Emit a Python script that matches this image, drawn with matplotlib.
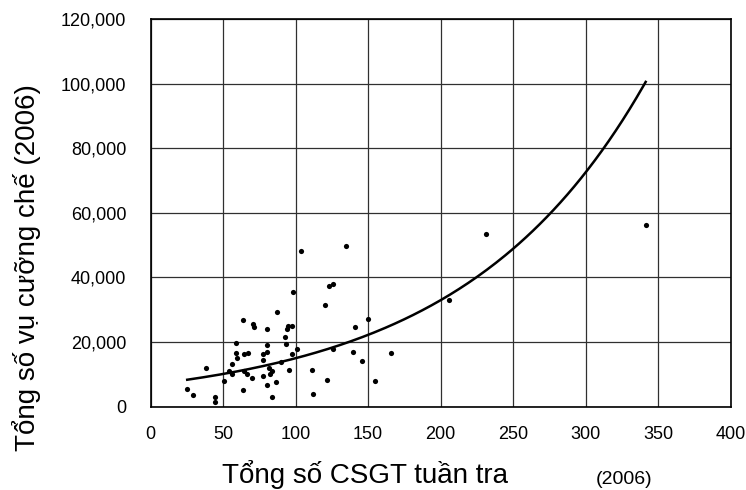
import numpy as np
import matplotlib
matplotlib.use("Agg")
import matplotlib.pyplot as plt

plt.rcParams['font.family'] = ['Liberation Sans', 'DejaVu Sans']

# Data (patrol officers vs. enforcement cases, 2006)
csgt = [25.3, 29.0, 38.0, 44.3, 44.3, 50.6, 54.3, 56.2, 56.2, 59.1,
        59.1, 59.9, 63.5, 63.5, 64.3, 64.1, 67.2, 66.4, 69.9, 70.7,
        71.5, 77.3, 77.3, 77.3, 80.2, 80.2, 80.2, 80.2, 81.7, 82.3,
        83.8, 83.8, 86.5, 87.3, 89.9, 92.8, 93.6, 94.4, 94.7, 95.7,
        97.3, 97.3, 98.4, 101.0, 103.9, 111.0, 112.1, 120.2, 121.8, 122.9,
        125.5, 125.5, 134.7, 139.5, 141.1, 145.8, 150.0, 155.0, 165.9, 205.9,
        231.5, 341.2]
cases = [5483, 3414, 12000, 2897, 1345, 7862, 10862, 9931, 13241, 19759,
         16552, 14897, 26793, 5069, 16138, 10862, 16552, 10138, 8690, 25655,
         24724, 16138, 14483, 9517, 23897, 18931, 16966, 6621, 12000, 9931,
         10862, 2897, 7448, 29172, 13759, 21414, 19448, 23897, 24828, 11172,
         24828, 16138, 35379, 17690, 48103, 11172, 3724, 31345, 8276, 37448,
         37862, 17690, 49759, 16966, 24724, 14069, 27207, 7862, 16552, 33000,
         53483, 56276]

# Exponential trendline coefficients (y = a * exp(b * x))
trend_a = 6795.0
trend_b = 0.0079

x_ticks = [0, 50, 100, 150, 200, 250, 300, 350, 400]
y_ticks = [0, 20000, 40000, 60000, 80000, 100000, 120000]

fig = plt.figure(figsize=(7.46, 4.90), dpi=100)
ax = fig.add_axes([150.5 / 746, 1 - 406.5 / 490, (731 - 150.5) / 746, (406.5 - 19.5) / 490])

ax.scatter(csgt, cases, s=14, color='black', zorder=3, linewidths=0)

xs = np.linspace(min(csgt), max(csgt), 200)
ax.plot(xs, trend_a * np.exp(trend_b * xs), color='black', lw=1.8, zorder=4)

ax.set_xlim(0, 400)
ax.set_ylim(0, 120000)
ax.set_xticks(x_ticks)
ax.set_yticks(y_ticks)
ax.set_yticklabels([f"{v:,}" for v in y_ticks])
ax.tick_params(axis='both', length=0, labelsize=13)
ax.tick_params(axis='y', pad=17.3)
ax.tick_params(axis='x', pad=14)
ax.grid(True, color='#303030', lw=0.9)
ax.set_axisbelow(True)
for sp in ax.spines.values():
    sp.set_color('black')
    sp.set_linewidth(1.2)

fig.text(365 / 746, 1 - 483 / 490, "Tổng số CSGT tuần tra", ha='center', va='baseline', fontsize=20)
fig.text(624 / 746, 1 - 484 / 490, "(2006)", ha='center', va='baseline', fontsize=14)
fig.text(27 / 746, 1 - 267.5 / 490, "Tổng số vụ cưỡng chế (2006)", ha='center', va='center',
         rotation=90, fontsize=20)

fig.savefig("out.png", dpi=100)
